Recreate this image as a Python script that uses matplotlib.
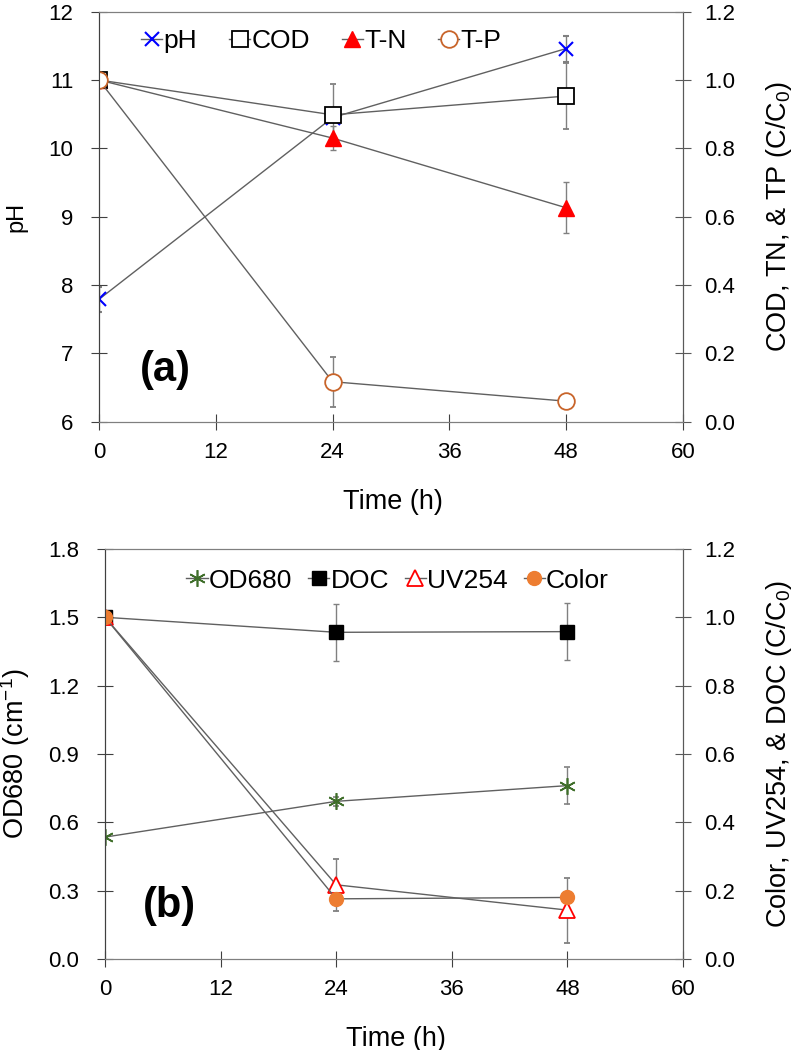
import matplotlib
matplotlib.use("Agg")
import matplotlib.pyplot as plt
from matplotlib.ticker import FormatStrFormatter

plt.rcParams['font.family'] = ['Liberation Sans', 'DejaVu Sans']
plt.rcParams['mathtext.fontset'] = 'custom'
plt.rcParams['mathtext.rm'] = 'Liberation Sans'
plt.rcParams['mathtext.it'] = 'Liberation Sans:italic'

# data
time = [0, 24, 48]

# panel (a)
ph = [7.79, 10.45, 11.46]
ph_err = [0.18, 0.0, 0.19]
cod = [1.0, 0.898, 0.953]
cod_err = [0.0, 0.09, 0.097]
tn = [1.0, 0.83, 0.626]
tn_err = [0.0, 0.035, 0.074]
tp = [1.0, 0.117, 0.06]
tp_err = [0.0, 0.073, 0.0]

# panel (b)
od680 = [0.535, 0.692, 0.761]
od680_err = [0.0, 0.02, 0.08]
doc = [1.0, 0.956, 0.958]
doc_err = [0.0, 0.084, 0.083]
uv254 = [1.0, 0.217, 0.143]
uv254_err = [0.0, 0.077, 0.095]
color = [1.0, 0.176, 0.18]
color_err = [0.0, 0.0, 0.0]

line_c = '#606060'
err_c = '#808080'
FS_TICK = 16
FS_LAB = 19.5
FS_LEG = 19


def style_axes(ax, ax2):
    for a in (ax, ax2):
        for s in a.spines.values():
            s.set_color('#7f7f7f')
        a.spines['left'].set_color('#404040')
        a.spines['right'].set_color('#595959')
    ax.tick_params(axis='y', direction='inout', length=11, pad=13,
                   labelsize=FS_TICK, color='#404040')
    ax.tick_params(axis='x', direction='inout', length=11, pad=9,
                   labelsize=FS_TICK, color='#404040')
    ax2.tick_params(axis='y', direction='inout', length=11, pad=10,
                    labelsize=FS_TICK, color='#595959')
    ax.set_xlim(0, 60)
    ax.set_xticks([0, 12, 24, 36, 48, 60])
    ax.set_xlabel('Time (h)', fontsize=FS_LAB)
    ax.xaxis.set_label_coords(0.503, -0.163)


def series(a, y, err, **kw):
    return a.errorbar(time, y, yerr=err, color=line_c, lw=1, ecolor=err_c,
                      elinewidth=1, capsize=2.5, capthick=1, **kw)


fig = plt.figure(figsize=(7.93, 10.5), dpi=100)

# ---- (a)
ax = fig.add_axes([0.1248, 0.5984, 0.7364, 0.3905])
ax2 = ax.twinx()
h1 = series(ax, ph, ph_err, marker='x', ms=10, mec='blue', mew=1.5)
h2 = series(ax2, tn, tn_err, marker='^', ms=11, mfc='red', mec='red')
h3 = series(ax2, cod, cod_err, marker='s', ms=11.5, mfc='white', mec='black',
            mew=1.3)
h4 = series(ax2, tp, tp_err, marker='o', ms=12, mfc='white', mec='#C8642A',
            mew=1.3)
ax.set_ylim(6, 12)
ax.set_yticks(range(6, 13))
ax2.set_ylim(0, 1.2)
ax2.set_yticks([0, 0.2, 0.4, 0.6, 0.8, 1.0, 1.2])
ax2.yaxis.set_major_formatter(FormatStrFormatter('%.1f'))
style_axes(ax, ax2)
ax.set_ylabel('pH', fontsize=17)
ax.yaxis.set_label_coords(-0.122, 0.5)
ax2.set_ylabel('COD, TN, & TP (C/C$_0$)', fontsize=FS_LAB)
ax2.yaxis.set_label_coords(1.138, 0.5)
ax.text(0.113, 0.126, '(a)', transform=ax.transAxes, fontsize=30,
        fontweight='bold', ha='center', va='center')
ax2.legend([h1[0], h3[0], h2[0], h4[0]], ['pH', 'COD', 'T-N', 'T-P'], ncol=4,
           frameon=False, fontsize=FS_LEG, loc='center left',
           bbox_to_anchor=(0.05, 0.9285), borderpad=0, handlelength=0.8,
           handletextpad=0.05, columnspacing=1.2)

# ---- (b)
bx = fig.add_axes([0.1324, 0.0867, 0.7289, 0.3905])
bx2 = bx.twinx()
g1 = series(bx, od680, od680_err, marker=(6, 2, 0), ms=12, mec='#3F6E2A',
            mew=1.2)
g2 = series(bx2, doc, doc_err, marker='s', ms=10, mfc='black', mec='black')
g3 = series(bx2, uv254, uv254_err, marker='^', ms=11, mfc='white', mec='red',
            mew=1.3)
g4 = series(bx2, color, color_err, marker='o', ms=10, mfc='#ED7D31',
            mec='#ED7D31')
bx.set_ylim(0, 1.8)
bx.set_yticks([0, 0.3, 0.6, 0.9, 1.2, 1.5, 1.8])
bx.yaxis.set_major_formatter(FormatStrFormatter('%.1f'))
bx2.set_ylim(0, 1.2)
bx2.set_yticks([0, 0.2, 0.4, 0.6, 0.8, 1.0, 1.2])
bx2.yaxis.set_major_formatter(FormatStrFormatter('%.1f'))
style_axes(bx, bx2)
bx.set_ylabel('OD680 (cm$^{-1}$)', fontsize=FS_LAB)
bx.yaxis.set_label_coords(-0.126, 0.5)
bx2.set_ylabel('Color, UV254, & DOC (C/C$_0$)', fontsize=FS_LAB)
bx2.yaxis.set_label_coords(1.14, 0.5)
bx.text(0.112, 0.128, '(b)', transform=bx.transAxes, fontsize=30,
        fontweight='bold', ha='center', va='center')
bx2.legend([g1[0], g2[0], g3[0], g4[0]], ['OD680', 'DOC', 'UV254', 'Color'],
           ncol=4, frameon=False, fontsize=FS_LEG, loc='center left',
           bbox_to_anchor=(0.118, 0.9227), borderpad=0, handlelength=0.8,
           handletextpad=0.05, columnspacing=0.6)

fig.savefig('out.png', dpi=100)
